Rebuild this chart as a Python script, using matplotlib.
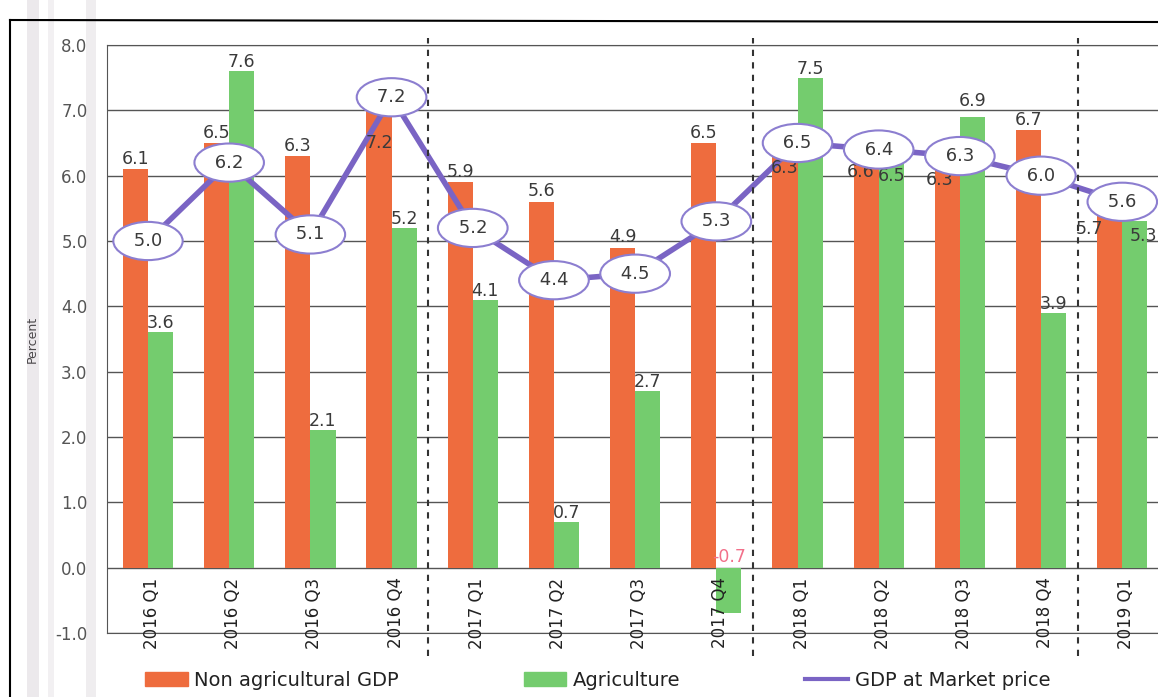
import matplotlib.pyplot as plt
from matplotlib.lines import Line2D
from matplotlib.patches import Patch, Rectangle

quarters = ["2016 Q1", "2016 Q2", "2016 Q3", "2016 Q4",
            "2017 Q1", "2017 Q2", "2017 Q3", "2017 Q4",
            "2018 Q1", "2018 Q2", "2018 Q3", "2018 Q4",
            "2019 Q1"]
non_agri = [6.1, 6.5, 6.3, 7.2, 5.9, 5.6, 4.9, 6.5, 6.3, 6.6, 6.3, 6.7, 5.7]
agri = [3.6, 7.6, 2.1, 5.2, 4.1, 0.7, 2.7, -0.7, 7.5, 6.5, 6.9, 3.9, 5.3]
gdp = [5.0, 6.2, 5.1, 7.2, 5.2, 4.4, 4.5, 5.3, 6.5, 6.4, 6.3, 6.0, 5.6]

ORANGE = "#EE6C3E"
GREEN = "#74CC6E"
PURPLE = "#7A64C4"
TXT = "#3a3a3a"

fig = plt.figure(figsize=(11.58, 6.97), dpi=100)

# scan frame / artifacts
fig.add_artist(Line2D([10/1158, 10/1158], [0, 1 - 20/697], transform=fig.transFigure, color="black", lw=1.5))
fig.add_artist(Line2D([10/1158, 1], [1 - 20/697, 1 - 22/697], transform=fig.transFigure, color="black", lw=1.5))
for x0, w, a in [(27, 12, 0.18), (48, 6, 0.12), (86, 10, 0.15)]:
    fig.add_artist(Rectangle((x0/1158, 0), w/1158, 1, transform=fig.transFigure,
                             color="#9a8a9a", alpha=a, lw=0))

ax = fig.add_axes([107/1158, 1 - 633/697, 1 - 107/1158, (633 - 45)/697])
x = list(range(len(quarters)))
bw = 0.31

ax.bar([i - bw/2 for i in x], non_agri, width=bw, color=ORANGE, zorder=2)
ax.bar([i + bw/2 for i in x], agri, width=bw, color=GREEN, zorder=2)
ax.plot(x, gdp, color=PURPLE, lw=4, zorder=3, solid_capstyle="round")

ax.set_xlim(-0.505, 12.44)
ax.set_ylim(-1, 8)
ax.set_yticks(range(-1, 9))
ax.set_yticklabels([f"{v:.1f}" for v in range(-1, 9)], fontsize=12, color="#555555")
ax.tick_params(axis="y", length=0, pad=14)
ax.set_xticks([])
ax.yaxis.grid(True, color="#555555", lw=1, zorder=0)
ax.set_axisbelow(True)
for s in ["top", "left", "bottom"]:
    ax.spines[s].set_color("#555555")
ax.spines["right"].set_visible(False)
ax.set_ylabel("Percent", fontsize=9, color=TXT, labelpad=12)

# year separators
for k in range(1, 4):
    xs = 4 * k - 0.55
    ax.plot([xs, xs], [-1.35, 8.1], ls=(0, (3, 3)), color="#333333", lw=1.5,
            clip_on=False, zorder=4)

# category labels inside axes, under zero
for i, q in enumerate(quarters):
    ax.text(i + 0.05, -0.15, q, rotation=90, ha="center", va="top",
            fontsize=12, color="#222222", zorder=5)

# bar value labels (nudged where the original avoided the ellipses)
na_nudge = {3: (0.0, 6.5), 8: (0.0, 6.12), 9: (-0.07, 6.06), 10: (-0.1, 5.94), 12: (-0.25, 5.18)}
ag_nudge = {9: (0.0, 6.0), 10: (0.0, 7.15), 12: (0.1, 5.07)}
for i, v in enumerate(non_agri):
    if i in na_nudge:
        dx, y = na_nudge[i]
        ax.text(i - bw/2 + dx, y, f"{v}", ha="center", va="center", fontsize=12.5, color=TXT, zorder=6)
    else:
        ax.annotate(f"{v}", (i - bw/2, v), xytext=(0, 1), textcoords="offset points",
                    ha="center", va="bottom", fontsize=12.5, color=TXT, zorder=6)
for i, v in enumerate(agri):
    if v < 0:
        ax.text(i + bw/2, 0.03, f"{v}", ha="center", va="bottom", fontsize=12.5,
                color="#F2708A", zorder=6)
    elif i in ag_nudge:
        dx, y = ag_nudge[i]
        ax.text(i + bw/2 + dx, y, f"{v}", ha="center", va="center", fontsize=12.5, color=TXT, zorder=6)
    else:
        ax.annotate(f"{v}", (i + bw/2, v), xytext=(0, 0), textcoords="offset points",
                    ha="center", va="bottom", fontsize=12.5, color=TXT, zorder=6)

# GDP ellipses
for i, v in enumerate(gdp):
    ax.text(i, v, f" {v:.1f} ", ha="center", va="center", fontsize=13, color=TXT, zorder=7,
            bbox=dict(boxstyle="ellipse,pad=0.25", fc="white", ec="#8C7ED0", lw=1.5))

handles = [Patch(color=ORANGE), Patch(color=GREEN), Line2D([0], [0], color=PURPLE, lw=3)]
labels = ["Non agricultural GDP", "Agriculture", "GDP at Market price"]
fig.legend(handles, labels, loc="center", bbox_to_anchor=(0.516, 1 - 680/697), ncol=3,
           frameon=False, fontsize=14, handlelength=2.2, handletextpad=0.35,
           columnspacing=6.4, labelcolor="#222222")

fig.savefig("out.png", dpi=100)
